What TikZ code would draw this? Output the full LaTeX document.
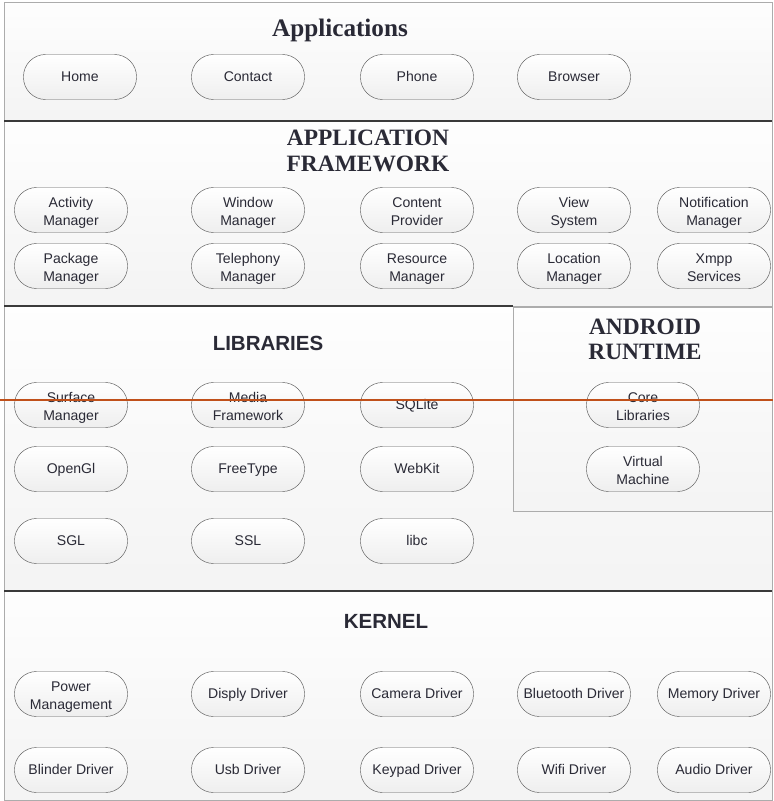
\documentclass[tikz,border=0pt]{standalone}
\usepackage{fontspec}
\setmainfont{Liberation Serif}
\setsansfont{Liberation Sans}

\definecolor{txt}{HTML}{2A2A36}
\definecolor{rim}{HTML}{5C5C5C}
\definecolor{sepline}{HTML}{3A3A3A}
\definecolor{cutline}{HTML}{C0501A}

\newcommand{\pillstrut}{\rule[-2.3pt]{0pt}{11.9pt}}
% two lines, set a little lower than the middle
\newcommand{\duo}[2]{\raisebox{-2.6pt}[\height][\depth]{%
  \begin{tabular}{@{}c@{}}#1\\#2\end{tabular}}}

\begin{document}
\begin{tikzpicture}[x=0.03cm,y=0.03cm,
    part/.style={draw=gray!65,top color=gray!1,bottom color=gray!9},
    pill/.style={draw=rim,rounded corners=0.66cm,minimum width=3.39cm,
      minimum height=1.35cm,inner sep=1pt,
      top color=white,bottom color=gray!13,text=txt,
      execute at begin node=\pillstrut,execute at end node=\pillstrut,
      font=\sffamily\fontsize{12}{15.3}\selectfont},
    head/.style={align=center,text=txt,font=\bfseries\fontsize{20}{21.5}\selectfont},
    shead/.style={text=txt,font=\sffamily\bfseries\fontsize{17.5}{21}\selectfont}]

    \useasboundingbox (0,0) rectangle (773,-801);

    % layers
    \draw[part] (4,-2) rectangle (772,-121);
    \draw[part] (4,-121) rectangle (772,-306);
    \draw[part] (4,-306) rectangle (772,-591);
    \draw[part] (513,-307) rectangle (772,-511);
    \draw[part] (4,-591) rectangle (772,-800);

    \draw[sepline,line width=1.2pt] (4,-121) -- (772,-121);
    \draw[sepline,line width=1.2pt] (4,-306) -- (513,-306);
    \draw[sepline,line width=1.2pt] (4,-591) -- (772,-591);

    % titles
    \node[head,font=\bfseries\fontsize{21.5}{23}\selectfont] (apptitle) at (340,-30) {Applications};
    \node[head] (fwtitle) at (368,-151) {APPLICATION\\FRAMEWORK};
    \node[shead] (libtitle) at (268,-343) {LIBRARIES};
    \node[head] (rttitle) at (645,-339) {ANDROID\\RUNTIME};
    \node[shead] (krntitle) at (386,-621) {KERNEL};

    % applications
    \node[pill] (home) at (80,-77) {Home};
    \node[pill] (contact) at (248,-77) {Contact};
    \node[pill] (phone) at (417,-77) {Phone};
    \node[pill] (browser) at (574,-77) {Browser};

    % application framework
    \node[pill] (actmgr) at (71,-210) {\duo{Activity}{Manager}};
    \node[pill] (winmgr) at (248,-210) {\duo{Window}{Manager}};
    \node[pill] (content) at (417,-210) {\duo{Content}{Provider}};
    \node[pill] (viewsys) at (574,-210) {\duo{View}{System}};
    \node[pill] (notifmgr) at (714,-210) {\duo{Notification}{Manager}};

    \node[pill] (pkgmgr) at (71,-266) {\duo{Package}{Manager}};
    \node[pill] (telmgr) at (248,-266) {\duo{Telephony}{Manager}};
    \node[pill] (resmgr) at (417,-266) {\duo{Resource}{Manager}};
    \node[pill] (locmgr) at (574,-266) {\duo{Location}{Manager}};
    \node[pill] (xmpp) at (714,-266) {\duo{Xmpp}{Services}};

    % libraries
    \node[pill] (surface) at (71,-405) {\duo{Surface}{Manager}};
    \node[pill] (media) at (248,-405) {\duo{Media}{Framework}};
    \node[pill] (sqlite) at (417,-405) {SQLite};

    \node[pill] (opengl) at (71,-469) {OpenGl};
    \node[pill] (freetype) at (248,-469) {FreeType};
    \node[pill] (webkit) at (417,-469) {WebKit};

    \node[pill] (sgl) at (71,-541) {SGL};
    \node[pill] (ssl) at (248,-541) {SSL};
    \node[pill] (libc) at (417,-541) {libc};

    % android runtime
    \node[pill] (corelib) at (643,-405) {\duo{Core}{Libraries}};
    \node[pill] (vm) at (643,-469) {\duo{Virtual}{Machine}};

    % kernel
    \node[pill] (power) at (71,-694) {\duo{Power}{Management}};
    \node[pill] (disply) at (248,-694) {Disply Driver};
    \node[pill] (camera) at (417,-694) {Camera Driver};
    \node[pill] (bt) at (574,-694) {Bluetooth Driver};
    \node[pill] (memory) at (714,-694) {Memory Driver};

    \node[pill] (blinder) at (71,-770) {Blinder Driver};
    \node[pill] (usb) at (248,-770) {Usb Driver};
    \node[pill] (keypad) at (417,-770) {Keypad Driver};
    \node[pill] (wifi) at (574,-770) {Wifi Driver};
    \node[pill] (audio) at (714,-770) {Audio Driver};

    % cut line
    \coordinate (cutL) at (0,-400);
    \coordinate (cutR) at (773,-400);
    \draw[cutline,line width=1.3pt] (cutL) -- (cutR);
\end{tikzpicture}
\end{document}
